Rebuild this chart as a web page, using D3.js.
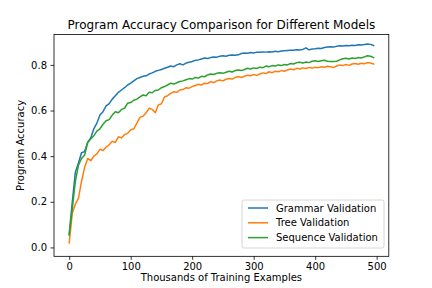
<!DOCTYPE html>
<html>
<head>
<meta charset="utf-8">
<script src="https://cdn.jsdelivr.net/npm/d3@7"></script>
<style>
body { margin: 0; background: #fff; }
text { font-family: "DejaVu Sans", sans-serif; fill: #000; }
</style>
</head>
<body>
<script>
var width = 432, height = 288;
var margin = {left: 54, right: 388.8, top: 34.56, bottom: 256.32};

// thousands of training examples, one point every 5k
var steps = d3.range(100).map(function(i) { return i * 5; });

var grammar = [0.06,0.20,0.33,0.37,0.415,0.42,0.46,0.48,0.52,0.545,
 0.58,0.595,0.62,0.63,0.65,0.665,0.68,0.69,0.70,0.712,
 0.72,0.73,0.74,0.745,0.75,0.752,0.76,0.765,0.772,0.776,
 0.78,0.785,0.79,0.795,0.792,0.80,0.805,0.80,0.808,0.812,
 0.815,0.82,0.822,0.826,0.83,0.828,0.832,0.835,0.834,0.838,
 0.84,0.838,0.842,0.843,0.842,0.844,0.85,0.852,0.851,0.854,
 0.852,0.856,0.855,0.857,0.856,0.858,0.857,0.86,0.858,0.861,
 0.862,0.863,0.864,0.864,0.866,0.865,0.868,0.875,0.866,0.87,
 0.871,0.873,0.872,0.876,0.878,0.88,0.878,0.882,0.884,0.883,
 0.885,0.884,0.886,0.885,0.888,0.887,0.889,0.892,0.89,0.885];

var tree = [0.02,0.15,0.19,0.215,0.29,0.35,0.39,0.38,0.40,0.41,
 0.43,0.425,0.44,0.45,0.465,0.46,0.485,0.48,0.495,0.50,
 0.515,0.52,0.545,0.57,0.575,0.59,0.61,0.605,0.59,0.625,
 0.63,0.66,0.665,0.675,0.682,0.68,0.69,0.692,0.70,0.698,
 0.705,0.71,0.715,0.712,0.72,0.718,0.727,0.722,0.73,0.734,
 0.73,0.737,0.74,0.738,0.745,0.749,0.745,0.75,0.755,0.752,
 0.758,0.754,0.76,0.765,0.762,0.77,0.766,0.772,0.77,0.775,
 0.772,0.778,0.782,0.779,0.785,0.782,0.787,0.784,0.789,0.786,
 0.79,0.788,0.792,0.79,0.794,0.792,0.789,0.795,0.80,0.797,
 0.802,0.798,0.804,0.806,0.803,0.807,0.805,0.81,0.808,0.804];

var sequence = [0.054,0.17,0.29,0.36,0.39,0.405,0.46,0.475,0.49,0.51,
 0.52,0.54,0.555,0.56,0.58,0.595,0.59,0.605,0.61,0.632,
 0.635,0.645,0.65,0.66,0.668,0.665,0.68,0.678,0.688,0.69,
 0.70,0.705,0.712,0.72,0.716,0.722,0.727,0.73,0.735,0.74,
 0.738,0.745,0.742,0.75,0.748,0.756,0.76,0.758,0.763,0.766,
 0.763,0.768,0.772,0.769,0.775,0.778,0.775,0.78,0.785,0.782,
 0.787,0.784,0.79,0.788,0.795,0.792,0.797,0.795,0.80,0.797,
 0.802,0.80,0.806,0.804,0.81,0.812,0.808,0.813,0.81,0.816,
 0.818,0.815,0.818,0.82,0.816,0.815,0.815,0.816,0.822,0.827,
 0.829,0.826,0.83,0.828,0.832,0.83,0.835,0.84,0.838,0.832];

var seriesNames = ['Grammar Validation', 'Tree Validation', 'Sequence Validation'];
var seriesColors = ['#1f77b4', '#ff7f0e', '#2ca02c'];
var seriesValues = [grammar, tree, sequence];

var xTicks = [0, 100, 200, 300, 400, 500];
var yTicks = [0.0, 0.2, 0.4, 0.6, 0.8];

var svg = d3.select('body').append('svg').attr('width', width).attr('height', height);

// matplotlib style 5% margins around the data
var x = d3.scaleLinear().domain([-24.75, 519.75]).range([margin.left, margin.right]);
var y = d3.scaleLinear().domain([-0.039, 0.933]).range([margin.bottom, margin.top]);

// lines
var line = d3.line()
 .x(function(d, i) { return x(steps[i]); })
 .y(function(d) { return y(d); });

svg.append('g').selectAll('path')
 .data(seriesValues)
 .join('path')
 .attr('fill', 'none')
 .attr('stroke', function(d, i) { return seriesColors[i]; })
 .attr('stroke-width', 1.5)
 .attr('stroke-linejoin', 'round')
 .attr('stroke-linecap', 'square')
 .attr('d', line);

// axes
var xAxis = svg.append('g')
 .attr('transform', 'translate(0,' + margin.bottom + ')')
 .call(d3.axisBottom(x).tickValues(xTicks).tickSize(3.5).tickPadding(3.5).tickFormat(d3.format('d')));
var yAxis = svg.append('g')
 .attr('transform', 'translate(' + margin.left + ',0)')
 .call(d3.axisLeft(y).tickValues(yTicks).tickSize(3.5).tickPadding(3.5).tickFormat(d3.format('.1f')));

[xAxis, yAxis].forEach(function(a) {
 a.select('.domain').remove();
 a.selectAll('line').attr('stroke', '#000').attr('stroke-width', 0.8);
 a.selectAll('text').attr('font-size', 10).attr('font-family', '"DejaVu Sans", sans-serif').attr('fill', '#000');
});

// frame
svg.append('rect')
 .attr('x', margin.left).attr('y', margin.top)
 .attr('width', margin.right - margin.left).attr('height', margin.bottom - margin.top)
 .attr('fill', 'none').attr('stroke', '#000').attr('stroke-width', 0.8);

// titles
svg.append('text')
 .attr('x', (margin.left + margin.right) / 2).attr('y', 28.5)
 .attr('text-anchor', 'middle').attr('font-size', 12)
 .text('Program Accuracy Comparison for Different Models');

svg.append('text')
 .attr('x', (margin.left + margin.right) / 2).attr('y', 281)
 .attr('text-anchor', 'middle').attr('font-size', 10)
 .text('Thousands of Training Examples');

svg.append('text')
 .attr('transform', 'translate(24,' + ((margin.top + margin.bottom) / 2) + ') rotate(-90)')
 .attr('text-anchor', 'middle').attr('font-size', 10)
 .text('Program Accuracy');

// legend
var legend = svg.append('g').attr('transform', 'translate(242,200)');
legend.append('rect')
 .attr('width', 142).attr('height', 48).attr('rx', 2)
 .attr('fill', '#fff').attr('fill-opacity', 0.8)
 .attr('stroke', '#ccc').attr('stroke-width', 0.8);

var rows = legend.selectAll('g.row')
 .data(seriesNames)
 .join('g')
 .attr('class', 'row')
 .attr('transform', function(d, i) { return 'translate(0,' + (8 + i * 14.8) + ')'; });

rows.append('line')
 .attr('x1', 6).attr('x2', 26)
 .attr('stroke', function(d, i) { return seriesColors[i]; })
 .attr('stroke-width', 1.5);

rows.append('text')
 .attr('x', 34).attr('dy', '0.35em')
 .attr('font-size', 10)
 .text(function(d) { return d; });
</script>
</body>
</html>
